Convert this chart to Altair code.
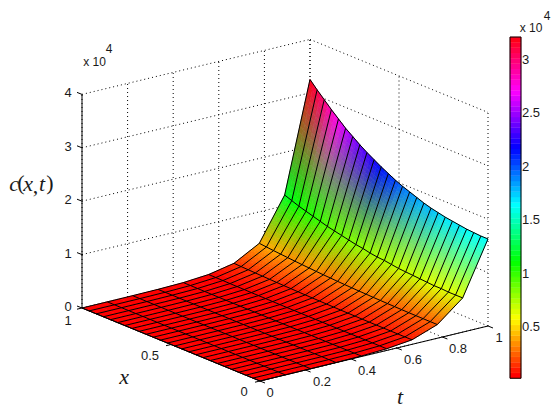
import colorsys
import altair as alt
import pandas as pd

# ---- data -----------------------------------------------------------------
x_grid = [i / 25 for i in range(26)]
t_grid = [i / 9 for i in range(10)]
# c(x,t) in units of 1e4; one row per t (t = 0 ... 1), one column per x (0 ... 1)
c_rows = [
 [0]*26,
 [.0003]*26,
 [.001]*20 + [.0012,.0013,.0014,.0015,.0017,.002],
 [.003,.003,.003,.003,.003,.003,.003,.003,.003,.003,.003,.003,.003,.003,.003,.004,.004,.004,.004,.004,.005,.005,.005,.006,.006,.006],
 [.010,.010,.010,.010,.010,.010,.010,.011,.011,.011,.011,.012,.012,.012,.013,.013,.013,.014,.014,.015,.015,.016,.016,.017,.018,.018],
 [.032,.032,.032,.032,.033,.033,.033,.034,.034,.035,.035,.036,.037,.037,.038,.039,.040,.042,.043,.044,.046,.048,.049,.051,.053,.055],
 [.085,.085,.085,.086,.086,.087,.088,.089,.091,.092,.094,.096,.098,.101,.103,.106,.109,.113,.116,.120,.124,.129,.134,.139,.144,.150],
 [.256,.256,.257,.258,.259,.261,.264,.266,.270,.273,.278,.282,.287,.293,.299,.306,.313,.321,.330,.339,.349,.360,.371,.383,.396,.410],
 [.64,.64,.64,.65,.65,.66,.67,.68,.69,.70,.72,.74,.75,.77,.80,.82,.85,.88,.91,.94,.98,1.02,1.06,1.10,1.15,1.20],
 [1.63,1.63,1.64,1.65,1.67,1.69,1.71,1.74,1.77,1.81,1.86,1.91,1.96,2.02,2.09,2.16,2.24,2.32,2.41,2.51,2.61,2.73,2.85,2.98,3.11,3.25],
]
z_ticks = [0, 1, 2, 3, 4]
x_ticks = [0, 0.5, 1]
t_ticks = [0, 0.2, 0.4, 0.6, 0.8, 1]
cbar_ticks = [0.5, 1, 1.5, 2, 2.5, 3]
c_min, c_max = 0.02, 3.215


# ---- view: orthographic projection of (x, t, z) to picture coordinates ------
def P(x, t, z=0.0):
    return 260 + 228 * t - 178 * x, 381 - 55 * t - 73 * x - 53.4 * z


def hsv_rgb(v):
    f = min(max((v - c_min) / (c_max - c_min), 0), 1)
    return colorsys.hsv_to_rgb(min(int(f * 64), 63) / 64, 1, 1)


def to_hex(rgb):
    return "#%02x%02x%02x" % tuple(int(round(255 * c)) for c in rgb)


def lerp(a, b, u):
    return a + (b - a) * u


# surface: RGB-interpolated vertex colours, painted back to front
features = []
strips = [2, 2, 2, 2, 2, 3, 4, 8, 12, 20]
for i in range(8, -1, -1):
    n_t = strips[i + 1]
    n_x = 2 if i >= 6 else 1
    for j in range(24, -1, -1):
        for a in range(n_t - 1, -1, -1):
            for b in range(n_x - 1, -1, -1):
                u0, u1 = a / n_t, (a + 1) / n_t
                w0, w1 = b / n_x, (b + 1) / n_x

                def pos(u, w):
                    z0 = lerp(c_rows[i][j], c_rows[i][j + 1], w)
                    z1 = lerp(c_rows[i + 1][j], c_rows[i + 1][j + 1], w)
                    return P(lerp(x_grid[j], x_grid[j + 1], w),
                             lerp(t_grid[i], t_grid[i + 1], u), lerp(z0, z1, u))

                um, wm = (u0 + u1) / 2, (w0 + w1) / 2
                c00, c01 = hsv_rgb(c_rows[i][j]), hsv_rgb(c_rows[i][j + 1])
                c10, c11 = hsv_rgb(c_rows[i + 1][j]), hsv_rgb(c_rows[i + 1][j + 1])
                rgb = [lerp(lerp(c00[k], c01[k], wm), lerp(c10[k], c11[k], wm), um) for k in range(3)]
                ring = [pos(u0, w0), pos(u0, w1), pos(u1, w1), pos(u1, w0), pos(u0, w0)]
                features.append({
                    "type": "Feature",
                    "properties": {"c": to_hex(rgb)},
                    "geometry": {"type": "Polygon",
                                 "coordinates": [[[round(p, 2), round(q, 2)] for p, q in ring]]},
                })

# mesh lines
mesh = []
for j, xv in enumerate(x_grid):
    for i, tv in enumerate(t_grid):
        px, py = P(xv, tv, c_rows[i][j])
        mesh.append({"id": f"x{j}", "s": i, "px": px, "py": py})
for i, tv in enumerate(t_grid):
    for j, xv in enumerate(x_grid):
        px, py = P(xv, tv, c_rows[i][j])
        mesh.append({"id": f"t{i}", "s": j, "px": px, "py": py})


def seg(a, b):
    return {"x1": a[0], "y1": a[1], "x2": b[0], "y2": b[1]}


# dotted grid on the walls and the floor
grid = []
for z in z_ticks[1:]:
    grid.append(seg(P(1, 0, z), P(1, 1, z)))
    grid.append(seg(P(1, 1, z), P(0, 1, z)))
for tv in t_ticks:
    grid.append(seg(P(1, tv, 0), P(1, tv, 4)))
    grid.append(seg(P(0, tv, 0), P(1, tv, 0)))
for xv in x_ticks:
    grid.append(seg(P(xv, 1, 0), P(xv, 1, 4)))
    grid.append(seg(P(xv, 0, 0), P(xv, 1, 0)))

# axes and ticks
axes = [seg(P(1, 0, 0), P(1, 0, 4)), seg(P(1, 0, 0), P(0, 0, 0)), seg(P(0, 0, 0), P(0, 1, 0))]
for z in z_ticks:
    p = P(1, 0, z)
    axes.append(seg(p, (p[0] - 5, p[1] - 2)))
for xv in x_ticks:
    p = P(xv, 0, 0)
    axes.append(seg(p, (p[0] - 5, p[1] + 1.2)))
for tv in t_ticks:
    p = P(0, tv, 0)
    axes.append(seg(p, (p[0] + 5, p[1] + 2)))


# colour bar
def cy(v):
    return 327 - (v - 0.5) * 106.8


cb_left, cb_right = 510, 521
cbar = []
for k in range(64):
    v0 = lerp(c_min, c_max, k / 64)
    v1 = lerp(c_min, c_max, (k + 1) / 64)
    cbar.append({"x1": cb_left, "x2": cb_right, "y1": cy(v0), "y2": cy(v1),
                 "c": to_hex(colorsys.hsv_to_rgb(k / 64, 1, 1))})
frame = [{"x1": cb_left, "x2": cb_right, "y1": cy(c_min), "y2": cy(c_max)}]
for v in cbar_ticks:
    axes.append(seg((cb_left, cy(v)), (cb_left + 3, cy(v))))
    axes.append(seg((cb_right - 3, cy(v)), (cb_right, cy(v))))

# texts
sans_big = []
for z, lab in zip(z_ticks, ["0", "1", "2", "3", "4"]):
    sans_big.append({"px": 68, "py": P(1, 0, z)[1] - 1, "label": lab})
sans_big += [{"px": 68, "py": 321, "label": "1"}, {"px": 150, "py": 356, "label": "0.5"},
             {"px": 244, "py": 392, "label": "0"}]
for lab, pos_ in zip(["0", "0.2", "0.4", "0.6", "0.8", "1"],
                     [(270, 393), (322, 382), (367, 371), (413, 360), (458, 349), (499, 338)]):
    sans_big.append({"px": pos_[0], "py": pos_[1], "label": lab})
sans_small = [{"px": 94.5, "py": 62, "label": "x 10"}, {"px": 109, "py": 49, "label": "4"},
              {"px": 531, "py": 28, "label": "x 10"}, {"px": 547, "py": 16, "label": "4"}]
sans_left = [{"px": 522, "py": cy(v), "label": str(v)} for v in cbar_ticks]
math_italic = [{"px": 14, "py": 184, "label": "c"}, {"px": 28, "py": 184, "label": "x"},
               {"px": 42, "py": 184, "label": "t"},
               {"px": 124, "py": 377, "label": "x"}, {"px": 400, "py": 397, "label": "t"}]
math_roman = [{"px": 21, "py": 183, "label": "("}, {"px": 35.5, "py": 186, "label": ","},
              {"px": 50, "py": 183, "label": ")"}]

X = alt.X("px:Q", scale=alt.Scale(domain=[8, 552], nice=False, zero=False), axis=None)
Y = alt.Y("py:Q", scale=alt.Scale(domain=[412, 8], nice=False, zero=False), axis=None)
X1 = alt.X("x1:Q", scale=alt.Scale(domain=[8, 552], nice=False, zero=False), axis=None)
Y1 = alt.Y("y1:Q", scale=alt.Scale(domain=[412, 8], nice=False, zero=False), axis=None)


def segs(rows, **kw):
    return alt.Chart(pd.DataFrame(rows)).mark_rule(color="black", **kw).encode(
        x=X1, y=Y1, x2="x2:Q", y2="y2:Q")


def txt(rows, **kw):
    return alt.Chart(pd.DataFrame(rows)).mark_text(baseline="middle", color="#1a1a1a", **kw).encode(
        x=X, y=Y, text="label:N")


surface = alt.Chart(alt.Data(values=features)).mark_geoshape(strokeWidth=0.6).encode(
    fill=alt.Fill("properties.c:N", scale=None),
    stroke=alt.Stroke("properties.c:N", scale=None),
).project(type="identity", scale=1, translate=[-8, -8])

mesh_lines = alt.Chart(pd.DataFrame(mesh)).mark_line(color="black", strokeWidth=1).encode(
    x=X, y=Y, detail="id:N", order="s:Q")

cbar_rects = alt.Chart(pd.DataFrame(cbar)).mark_rect(strokeWidth=0.4).encode(
    x=X1, y=Y1, x2="x2:Q", y2="y2:Q",
    fill=alt.Fill("c:N", scale=None), stroke=alt.Stroke("c:N", scale=None))
cbar_frame = alt.Chart(pd.DataFrame(frame)).mark_rect(fillOpacity=0, stroke="black", strokeWidth=1).encode(
    x=X1, y=Y1, x2="x2:Q", y2="y2:Q")

chart = alt.layer(
    segs(grid, strokeDash=[1, 3], strokeWidth=1),
    surface,
    mesh_lines,
    segs(axes, strokeWidth=1),
    cbar_rects,
    cbar_frame,
    txt(sans_big, font="Liberation Sans", fontSize=13),
    txt(sans_small, font="Liberation Sans", fontSize=12),
    txt(sans_left, font="Liberation Sans", fontSize=13, align="left"),
    txt(math_italic, font="Liberation Serif", fontStyle="italic", fontSize=22),
    txt(math_roman, font="Liberation Serif", fontSize=22),
).properties(
    width=544, height=404, padding=0,
    autosize=alt.AutoSizeParams(type="none"),
    background="white",
).configure_view(stroke=None)

chart.save("out.html", embed_options={"renderer": "svg", "actions": False})
